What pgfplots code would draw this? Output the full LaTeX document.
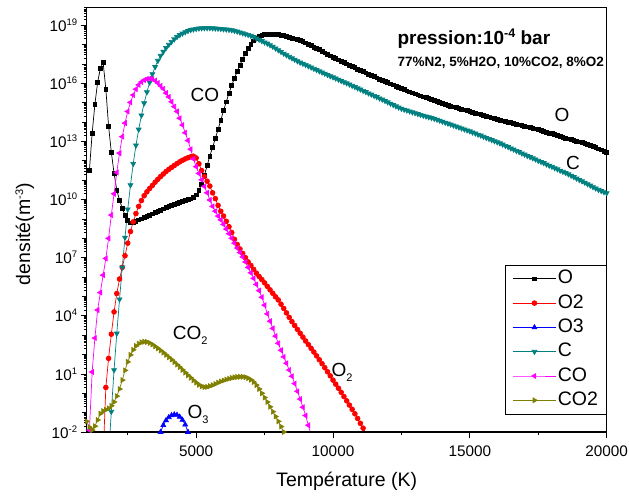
\documentclass[border=0pt]{standalone}
\usepackage{pgfplots}
\usepackage{pgfplotstable}
\pgfplotsset{compat=1.18}
\usepackage{fontspec}
\setmainfont{Liberation Sans}

\definecolor{cteal}{RGB}{0,128,128}
\definecolor{colive}{RGB}{128,128,0}
\definecolor{cmag}{RGB}{255,0,255}

% minor ticks 2..9 inside every decade
\def\minorlist{}
\foreach \e in {-2,...,19}{\foreach \m in {2,...,9}{\xdef\minorlist{\minorlist\m e\e,}}}
\xdef\minorlist{\minorlist 1e20}

\newcommand{\tp}[1]{10\raisebox{6pt}{\fontsize{9.5}{10}\selectfont #1}}

% log10 of the number density (m^-3) against temperature (K)
\pgfplotstableread[row sep=\\]{T ly \\
1100 11.52 \\ 1200 13.43 \\ 1300 14.92 \\ 1400 16.06 \\ 1500 16.78 \\ 1600 17.09 \\ 1700 15.70 \\ 1800 13.79 \\ 1900 12.45 \\ 2000 11.36 \\
2100 10.49 \\ 2200 9.97 \\ 2300 9.56 \\ 2400 9.20 \\ 2500 8.94 \\ 2600 8.80 \\ 2700 8.83 \\ 2800 8.88 \\ 2900 8.95 \\ 3000 9.01 \\
3100 9.07 \\ 3200 9.12 \\ 3300 9.19 \\ 3400 9.26 \\ 3500 9.33 \\ 3600 9.40 \\ 3700 9.46 \\ 3800 9.52 \\ 3900 9.58 \\ 4000 9.64 \\
4100 9.70 \\ 4200 9.76 \\ 4300 9.82 \\ 4400 9.87 \\ 4500 9.92 \\ 4600 9.96 \\ 4700 10.00 \\ 4800 10.04 \\ 4900 10.10 \\ 5000 10.25 \\
5100 10.47 \\ 5200 10.80 \\ 5300 11.25 \\ 5400 11.75 \\ 5500 12.25 \\ 5600 12.70 \\ 5700 13.15 \\ 5800 13.62 \\ 5900 14.10 \\ 6000 14.60 \\
6100 15.05 \\ 6200 15.50 \\ 6300 15.90 \\ 6400 16.27 \\ 6500 16.62 \\ 6600 16.95 \\ 6700 17.25 \\ 6800 17.55 \\ 6900 17.82 \\ 7000 18.03 \\
7100 18.20 \\ 7200 18.33 \\ 7300 18.42 \\ 7400 18.48 \\ 7500 18.52 \\ 7600 18.54 \\ 7700 18.55 \\ 7800 18.54 \\ 7900 18.53 \\ 8000 18.52 \\
8100 18.50 \\ 8200 18.47 \\ 8300 18.43 \\ 8400 18.39 \\ 8500 18.34 \\ 8600 18.30 \\ 8700 18.26 \\ 8800 18.22 \\ 8900 18.16 \\ 9000 18.09 \\
9100 18.02 \\ 9200 17.95 \\ 9300 17.88 \\ 9400 17.81 \\ 9500 17.74 \\ 9600 17.66 \\ 9700 17.58 \\ 9800 17.50 \\ 9900 17.42 \\ 10000 17.35 \\
10100 17.28 \\ 10200 17.22 \\ 10300 17.15 \\ 10400 17.08 \\ 10500 17.01 \\ 10600 16.94 \\ 10700 16.87 \\ 10800 16.81 \\ 10900 16.74 \\ 11000 16.67 \\
11100 16.61 \\ 11200 16.54 \\ 11300 16.48 \\ 11400 16.41 \\ 11500 16.35 \\ 11600 16.29 \\ 11700 16.22 \\ 11800 16.16 \\ 11900 16.10 \\ 12000 16.04 \\
12100 15.98 \\ 12200 15.92 \\ 12300 15.86 \\ 12400 15.79 \\ 12500 15.73 \\ 12600 15.68 \\ 12700 15.62 \\ 12800 15.56 \\ 12900 15.51 \\ 13000 15.46 \\
13100 15.41 \\ 13200 15.36 \\ 13300 15.31 \\ 13400 15.26 \\ 13500 15.21 \\ 13600 15.16 \\ 13700 15.11 \\ 13800 15.06 \\ 13900 15.01 \\ 14000 14.96 \\
14100 14.91 \\ 14200 14.87 \\ 14300 14.83 \\ 14400 14.79 \\ 14500 14.75 \\ 14600 14.71 \\ 14700 14.67 \\ 14800 14.63 \\ 14900 14.59 \\ 15000 14.55 \\
15100 14.51 \\ 15200 14.47 \\ 15300 14.43 \\ 15400 14.39 \\ 15500 14.35 \\ 15600 14.31 \\ 15700 14.27 \\ 15800 14.22 \\ 15900 14.18 \\ 16000 14.14 \\
16100 14.10 \\ 16200 14.07 \\ 16300 14.04 \\ 16400 14.00 \\ 16500 13.97 \\ 16600 13.93 \\ 16700 13.90 \\ 16800 13.86 \\ 16900 13.83 \\ 17000 13.79 \\
17100 13.76 \\ 17200 13.72 \\ 17300 13.69 \\ 17400 13.65 \\ 17500 13.61 \\ 17600 13.57 \\ 17700 13.53 \\ 17800 13.49 \\ 17900 13.44 \\ 18000 13.40 \\
18100 13.36 \\ 18200 13.32 \\ 18300 13.27 \\ 18400 13.22 \\ 18500 13.18 \\ 18600 13.14 \\ 18700 13.10 \\ 18800 13.06 \\ 18900 13.02 \\ 19000 12.98 \\
19100 12.94 \\ 19200 12.89 \\ 19300 12.86 \\ 19400 12.80 \\ 19500 12.74 \\ 19600 12.68 \\ 19700 12.62 \\ 19800 12.57 \\ 19900 12.51 \\ 20000 12.45 \\
}\tabO

\pgfplotstableread[row sep=\\]{T ly \\
1600 -3.30 \\ 1700 0.30 \\ 1800 1.80 \\ 1900 3.05 \\ 2000 4.20 \\
2100 5.15 \\ 2200 5.90 \\ 2300 6.50 \\ 2400 7.10 \\ 2500 7.75 \\ 2600 8.35 \\ 2700 8.85 \\ 2800 9.28 \\ 2900 9.65 \\ 3000 9.95 \\
3100 10.20 \\ 3200 10.40 \\ 3300 10.57 \\ 3400 10.73 \\ 3500 10.90 \\ 3600 11.05 \\ 3700 11.19 \\ 3800 11.32 \\ 3900 11.45 \\ 4000 11.56 \\
4100 11.66 \\ 4200 11.76 \\ 4300 11.86 \\ 4400 11.95 \\ 4500 12.03 \\ 4600 12.10 \\ 4700 12.16 \\ 4800 12.21 \\ 4900 12.24 \\ 5000 12.15 \\
5100 11.85 \\ 5200 11.50 \\ 5300 11.20 \\ 5400 10.95 \\ 5500 10.70 \\ 5600 10.35 \\ 5700 10.05 \\ 5800 9.70 \\ 5900 9.40 \\ 6000 9.15 \\
6100 8.88 \\ 6200 8.60 \\ 6300 8.30 \\ 6400 7.95 \\ 6500 7.68 \\ 6600 7.45 \\ 6700 7.22 \\ 6800 7.00 \\ 6900 6.78 \\ 7000 6.60 \\
7100 6.40 \\ 7200 6.20 \\ 7300 6.03 \\ 7400 5.87 \\ 7500 5.70 \\ 7600 5.52 \\ 7700 5.34 \\ 7800 5.16 \\ 7900 4.98 \\ 8000 4.82 \\
8100 4.60 \\ 8200 4.38 \\ 8300 4.15 \\ 8400 3.92 \\ 8500 3.70 \\ 8600 3.50 \\ 8700 3.30 \\ 8800 3.10 \\ 8900 2.90 \\ 9000 2.70 \\
9100 2.51 \\ 9200 2.32 \\ 9300 2.13 \\ 9400 1.93 \\ 9500 1.73 \\ 9600 1.53 \\ 9700 1.32 \\ 9800 1.11 \\ 9900 0.90 \\ 10000 0.68 \\
10100 0.47 \\ 10200 0.26 \\ 10300 0.05 \\ 10400 -0.17 \\ 10500 -0.39 \\ 10600 -0.61 \\ 10700 -0.83 \\ 10800 -1.06 \\ 10900 -1.30 \\ 11000 -1.55 \\
11100 -1.80 \\ 11200 -2.05 \\ 11300 -2.30 \\
}\tabOii

\pgfplotstableread[row sep=\\]{T ly \\
3600 -3.50 \\ 3700 -2.00 \\ 3800 -1.65 \\ 3900 -1.40 \\ 4000 -1.24 \\ 4100 -1.14 \\ 4200 -1.10 \\ 4300 -1.12 \\ 4400 -1.22 \\ 4500 -1.38 \\
4600 -1.62 \\ 4700 -2.00 \\ 4800 -2.70 \\
}\tabOiii

\pgfplotstableread[row sep=\\]{T ly \\
1800 -3.20 \\ 1900 -0.95 \\ 2000 1.20 \\
2100 3.09 \\ 2200 4.85 \\ 2300 6.50 \\ 2400 8.04 \\ 2500 9.50 \\ 2600 10.75 \\ 2700 11.85 \\ 2800 12.80 \\ 2900 13.62 \\ 3000 14.35 \\
3100 14.98 \\ 3200 15.55 \\ 3300 16.05 \\ 3400 16.48 \\ 3500 16.85 \\ 3600 17.17 \\ 3700 17.43 \\ 3800 17.64 \\ 3900 17.83 \\ 4000 18.00 \\
4100 18.15 \\ 4200 18.28 \\ 4300 18.40 \\ 4400 18.50 \\ 4500 18.58 \\ 4600 18.65 \\ 4700 18.71 \\ 4800 18.76 \\ 4900 18.79 \\ 5000 18.82 \\
5100 18.84 \\ 5200 18.85 \\ 5300 18.86 \\ 5400 18.86 \\ 5500 18.86 \\ 5600 18.85 \\ 5700 18.84 \\ 5800 18.83 \\ 5900 18.82 \\ 6000 18.80 \\
6100 18.79 \\ 6200 18.77 \\ 6300 18.75 \\ 6400 18.72 \\ 6500 18.68 \\ 6600 18.64 \\ 6700 18.59 \\ 6800 18.55 \\ 6900 18.51 \\ 7000 18.46 \\
7100 18.40 \\ 7200 18.33 \\ 7300 18.26 \\ 7400 18.19 \\ 7500 18.12 \\ 7600 18.06 \\ 7700 17.98 \\ 7800 17.90 \\ 7900 17.81 \\ 8000 17.72 \\
8100 17.63 \\ 8200 17.54 \\ 8300 17.46 \\ 8400 17.38 \\ 8500 17.30 \\ 8600 17.23 \\ 8700 17.15 \\ 8800 17.08 \\ 8900 17.02 \\ 9000 16.96 \\
9100 16.89 \\ 9200 16.83 \\ 9300 16.76 \\ 9400 16.70 \\ 9500 16.63 \\ 9600 16.57 \\ 9700 16.51 \\ 9800 16.44 \\ 9900 16.38 \\ 10000 16.32 \\
10100 16.26 \\ 10200 16.20 \\ 10300 16.13 \\ 10400 16.07 \\ 10500 16.01 \\ 10600 15.95 \\ 10700 15.88 \\ 10800 15.82 \\ 10900 15.75 \\ 11000 15.69 \\
11100 15.62 \\ 11200 15.56 \\ 11300 15.49 \\ 11400 15.43 \\ 11500 15.36 \\ 11600 15.30 \\ 11700 15.23 \\ 11800 15.17 \\ 11900 15.10 \\ 12000 15.03 \\
12100 14.96 \\ 12200 14.89 \\ 12300 14.82 \\ 12400 14.76 \\ 12500 14.70 \\ 12600 14.65 \\ 12700 14.61 \\ 12800 14.56 \\ 12900 14.51 \\ 13000 14.47 \\
13100 14.42 \\ 13200 14.38 \\ 13300 14.34 \\ 13400 14.30 \\ 13500 14.26 \\ 13600 14.22 \\ 13700 14.18 \\ 13800 14.13 \\ 13900 14.08 \\ 14000 14.03 \\
14100 13.98 \\ 14200 13.93 \\ 14300 13.88 \\ 14400 13.83 \\ 14500 13.78 \\ 14600 13.73 \\ 14700 13.68 \\ 14800 13.63 \\ 14900 13.58 \\ 15000 13.53 \\
15100 13.47 \\ 15200 13.42 \\ 15300 13.36 \\ 15400 13.31 \\ 15500 13.25 \\ 15600 13.19 \\ 15700 13.14 \\ 15800 13.08 \\ 15900 13.02 \\ 16000 12.97 \\
16100 12.91 \\ 16200 12.85 \\ 16300 12.78 \\ 16400 12.72 \\ 16500 12.65 \\ 16600 12.59 \\ 16700 12.52 \\ 16800 12.46 \\ 16900 12.39 \\ 17000 12.33 \\
17100 12.26 \\ 17200 12.20 \\ 17300 12.14 \\ 17400 12.08 \\ 17500 12.01 \\ 17600 11.95 \\ 17700 11.89 \\ 17800 11.82 \\ 17900 11.76 \\ 18000 11.70 \\
18100 11.63 \\ 18200 11.57 \\ 18300 11.50 \\ 18400 11.44 \\ 18500 11.38 \\ 18600 11.31 \\ 18700 11.24 \\ 18800 11.17 \\ 18900 11.09 \\ 19000 11.02 \\
19100 10.95 \\ 19200 10.88 \\ 19300 10.80 \\ 19400 10.73 \\ 19500 10.65 \\ 19600 10.58 \\ 19700 10.51 \\ 19800 10.45 \\ 19900 10.39 \\ 20000 10.34 \\
}\tabC

\pgfplotstableread[row sep=\\]{T ly \\
1000 -4.00 \\ 1100 -1.90 \\ 1200 1.10 \\ 1300 2.85 \\ 1400 4.30 \\ 1500 5.20 \\ 1600 6.10 \\ 1700 6.96 \\ 1800 8.00 \\ 1900 9.20 \\ 2000 10.30 \\
2100 11.40 \\ 2200 12.40 \\ 2300 13.25 \\ 2400 13.95 \\ 2500 14.55 \\ 2600 15.02 \\ 2700 15.40 \\ 2800 15.70 \\ 2900 15.92 \\ 3000 16.07 \\
3100 16.17 \\ 3200 16.23 \\ 3300 16.25 \\ 3400 16.22 \\ 3500 16.14 \\ 3600 16.02 \\ 3700 15.87 \\ 3800 15.72 \\ 3900 15.50 \\ 4000 15.30 \\
4100 15.05 \\ 4200 14.80 \\ 4300 14.55 \\ 4400 14.20 \\ 4500 13.85 \\ 4600 13.45 \\ 4700 13.05 \\ 4800 12.60 \\ 4900 12.10 \\ 5000 11.70 \\
5100 11.35 \\ 5200 11.02 \\ 5300 10.68 \\ 5400 10.35 \\ 5500 9.98 \\ 5600 9.65 \\ 5700 9.40 \\ 5800 9.15 \\ 5900 8.95 \\ 6000 8.72 \\
6100 8.48 \\ 6200 8.24 \\ 6300 8.00 \\ 6400 7.75 \\ 6500 7.50 \\ 6600 7.27 \\ 6700 7.04 \\ 6800 6.78 \\ 6900 6.50 \\ 7000 6.22 \\
7100 5.93 \\ 7200 5.62 \\ 7300 5.30 \\ 7400 4.96 \\ 7500 4.55 \\ 7600 4.10 \\ 7700 3.72 \\ 7800 3.35 \\ 7900 2.95 \\ 8000 2.58 \\
8100 2.22 \\ 8200 1.88 \\ 8300 1.55 \\ 8400 1.20 \\ 8500 0.88 \\ 8600 0.50 \\ 8700 0.10 \\ 8800 -0.30 \\ 8900 -0.72 \\ 9000 -1.15 \\
9100 -1.65 \\ 9200 -2.15 \\
}\tabCO

\pgfplotstableread[row sep=\\]{T ly \\
1000 -1.45 \\ 1100 -1.75 \\ 1200 -1.90 \\ 1300 -1.70 \\ 1400 -1.38 \\ 1500 -1.05 \\ 1600 -0.92 \\ 1700 -0.85 \\ 1800 -0.78 \\ 1900 -0.65 \\ 2000 -0.45 \\
2100 -0.15 \\ 2200 0.22 \\ 2300 0.68 \\ 2400 1.18 \\ 2500 1.62 \\ 2600 1.98 \\ 2700 2.24 \\ 2800 2.44 \\ 2900 2.56 \\ 3000 2.63 \\
3100 2.66 \\ 3200 2.65 \\ 3300 2.60 \\ 3400 2.52 \\ 3500 2.42 \\ 3600 2.32 \\ 3700 2.21 \\ 3800 2.10 \\ 3900 1.98 \\ 4000 1.86 \\
4100 1.74 \\ 4200 1.61 \\ 4300 1.48 \\ 4400 1.35 \\ 4500 1.21 \\ 4600 1.07 \\ 4700 0.93 \\ 4800 0.80 \\ 4900 0.67 \\ 5000 0.55 \\
5100 0.44 \\ 5200 0.36 \\ 5300 0.32 \\ 5400 0.33 \\ 5500 0.37 \\ 5600 0.42 \\ 5700 0.48 \\ 5800 0.55 \\ 5900 0.61 \\ 6000 0.66 \\
6100 0.71 \\ 6200 0.75 \\ 6300 0.79 \\ 6400 0.82 \\ 6500 0.84 \\ 6600 0.85 \\ 6700 0.85 \\ 6800 0.83 \\ 6900 0.78 \\ 7000 0.70 \\
7100 0.58 \\ 7200 0.42 \\ 7300 0.22 \\ 7400 0.00 \\ 7500 -0.22 \\ 7600 -0.45 \\ 7700 -0.70 \\ 7800 -0.95 \\ 7900 -1.20 \\ 8000 -1.45 \\
8100 -1.72 \\ 8200 -2.00 \\ 8300 -2.30 \\
}\tabCOii

\begin{document}
\begin{tikzpicture}
\begin{axis}[
  scale only axis, width=520pt, height=424.4pt,
  xmin=1000, xmax=20000,
  ymode=log, ymin=1e-2, ymax=8.2e19,
  axis line style={line width=1.1pt},
  tick align=outside, tick pos=left,
  tick style={black, line width=0.8pt},
  major tick length=6pt, minor tick length=2.8pt,
  scaled x ticks=false,
  xtick={5000,10000,15000,20000},
  xticklabels={5000,10000,15000,20000},
  minor xtick={2500,7500,12500,17500},
  ytick={1e-2,1e1,1e4,1e7,1e10,1e13,1e16,1e19},
  yticklabels={\tp{-2},\tp{1},\tp{4},\tp{7},\tp{10},\tp{13},\tp{16},\tp{19}},
  minor ytick/.expanded={\minorlist},
  extra y ticks={1e-1,1e0,1e2,1e3,1e5,1e6,1e8,1e9,1e11,1e12,1e14,1e15,1e17,1e18},
  extra y tick labels={},
  extra y tick style={major tick length=4.5pt, ytick pos=left},
  ticklabel style={font=\fontsize{15.3}{18}\selectfont},
  xticklabel style={yshift=-4pt},
  xlabel={Température (K)},
  ylabel={densité(m\raisebox{7pt}{\fontsize{11}{11}\selectfont -3})},
  label style={font=\fontsize{19.5}{22}\selectfont},
  xlabel style={at={(rel axis cs:0.5,-0.116)}, anchor=center},
  ylabel style={at={(rel axis cs:-0.119,0.466)}, anchor=center},
  legend cell align=left,
  legend image code/.code={\draw[mark repeat=2,mark phase=2,#1] plot coordinates {(0pt,0pt) (21.5pt,0pt) (43pt,0pt)};},
  legend style={at={(rel axis cs:1,0.3935)}, anchor=north east,
    font=\fontsize{19.5}{20}\selectfont, draw=black, line width=0.6pt,
    inner xsep=7pt, inner ysep=3pt, row sep=3.3pt,
    nodes={inner sep=1.5pt, text height=14pt, text depth=4pt}},
  axis on top,
]
\addplot[black, line width=0.7pt, mark=square*, mark size=1.9pt, mark options={solid, fill=black}]
  table[x=T, y expr={10^(\thisrow{ly})}] {\tabO};
\addlegendentry{O}
\addplot[red, line width=0.7pt, mark=*, mark size=2.4pt, mark options={solid, fill=red}]
  table[x=T, y expr={10^(\thisrow{ly})}] {\tabOii};
\addlegendentry{O2}
\addplot[blue, line width=0.7pt, mark=triangle*, mark size=2.8pt, mark options={solid, fill=blue}]
  table[x=T, y expr={10^(\thisrow{ly})}] {\tabOiii};
\addlegendentry{O3}
\addplot[cteal, line width=0.7pt, mark=triangle*, mark size=2.8pt, mark options={solid, fill=cteal, rotate=180}]
  table[x=T, y expr={10^(\thisrow{ly})}] {\tabC};
\addlegendentry{C}
\addplot[cmag, line width=0.7pt, mark=triangle*, mark size=2.8pt, mark options={solid, fill=cmag, rotate=90}]
  table[x=T, y expr={10^(\thisrow{ly})}] {\tabCO};
\addlegendentry{CO}
\addplot[colive, line width=0.7pt, mark=triangle*, mark size=2.8pt, mark options={solid, fill=colive, rotate=-90}]
  table[x=T, y expr={10^(\thisrow{ly})}] {\tabCOii};
\addlegendentry{CO2}

% species names next to the curves
\node[font=\fontsize{19}{20}\selectfont] at (rel axis cs:0.2275,0.794) {CO};
\node[font=\fontsize{19}{20}\selectfont] at (rel axis cs:0.914,0.747) {O};
\node[font=\fontsize{19}{20}\selectfont] at (rel axis cs:0.935,0.634) {C};
\node[font=\fontsize{19}{20}\selectfont] at (rel axis cs:0.199,0.228) {CO\raisebox{-5pt}{\fontsize{11}{11}\selectfont 2}};
\node[font=\fontsize{19}{20}\selectfont] at (rel axis cs:0.214,0.042) {O\raisebox{-5pt}{\fontsize{11}{11}\selectfont 3}};
\node[font=\fontsize{19}{20}\selectfont] at (rel axis cs:0.491,0.141) {O\raisebox{-5pt}{\fontsize{11}{11}\selectfont 2}};

% conditions
\node[anchor=base west, font=\bfseries\fontsize{19}{20}\selectfont] at (rel axis cs:0.591,0.914)
  {pression:10\raisebox{7pt}{\fontsize{12.5}{12}\selectfont -4} bar};
\node[anchor=base west, font=\bfseries\fontsize{13.5}{14}\selectfont] at (rel axis cs:0.591,0.861)
  {77\%N2, 5\%H2O, 10\%CO2, 8\%O2};

\coordinate (bbSW) at (rel axis cs:-0.1667,-0.1532);
\coordinate (bbNE) at (rel axis cs:1.0429,1.0179);
\end{axis}
\pgfresetboundingbox
\path (bbSW) rectangle (bbNE);
\end{tikzpicture}
\end{document}
